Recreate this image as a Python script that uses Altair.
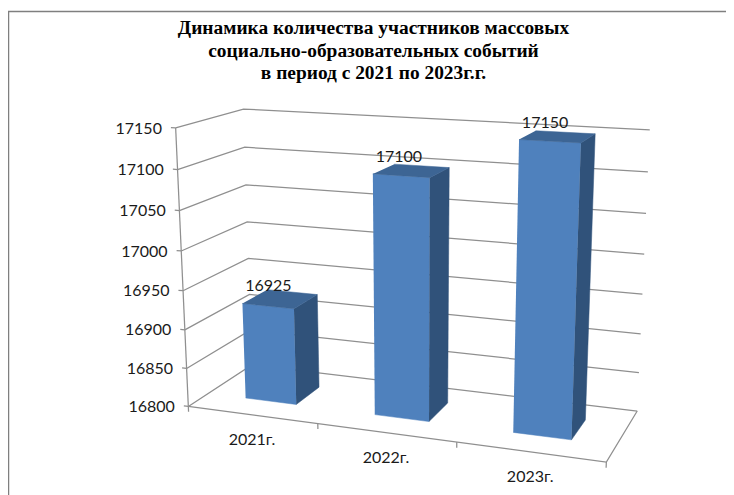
import numpy as np
import pandas as pd
import altair as alt

# ---- chart values -------------------------------------------------------
categories = ["2021г.", "2022г.", "2023г."]
values = [16925, 17100, 17150]
y_ticks = [16800, 16850, 16900, 16950, 17000, 17050, 17100, 17150]
title_lines = ["Динамика количества участников массовых",
               "социально-образовательных событий",
               "в период с 2021 по 2023г.г."]

V_MIN, V_MAX = y_ticks[0], y_ticks[-1]
BAR_W, D0, D1 = 0.4 / 3, 0.3, 0.7     # gap width / gap depth 150 %

# ---- perspective camera, calibrated on the box of the 3-D plot -----------
calib = [
    ((0, 1, 0), (176, 128)), ((0, 1, 1), (243, 109)), ((1, 1, 1), (650, 130)),
    ((0, 0, 0), (188, 406)), ((1, 0, 0), (606, 462)), ((1, 0, 1), (637, 411)),
    ((1 / 3, 0, 0), (318, 424)), ((2 / 3, 0, 0), (457, 443)),
    ((0, 0.5714, 0), (181, 251)), ((0, 0.5714, 1), (247, 222)),
    ((1, 0.5714, 1), (644, 254)), ((0, 0.2857, 1), (250, 295)),
    ((1, 0.2857, 1), (641, 333)), ((0, 0.2857, 0), (185, 329)),
]
A, b = [], []
for (u, v, d), (X, Y) in calib:
    A.append([u, v, d, 1, 0, 0, 0, 0, -X * u, -X * v, -X * d]); b.append(X)
    A.append([0, 0, 0, 0, u, v, d, 1, -Y * u, -Y * v, -Y * d]); b.append(Y)
P = np.linalg.lstsq(np.array(A, float), np.array(b, float), rcond=None)[0]


def proj(u, v, d):
    w = P[8] * u + P[9] * v + P[10] * d + 1
    return ((P[0] * u + P[1] * v + P[2] * d + P[3]) / w,
            (P[4] * u + P[5] * v + P[6] * d + P[7]) / w)


def norm(val):
    return (val - V_MIN) / (V_MAX - V_MIN)


def rows(key, pts):
    return [dict(key=key, o=i, x=proj(*p)[0], y=proj(*p)[1]) for i, p in enumerate(pts)]


# ---- structure ----------------------------------------------------------
grid, axes = [], []
for t in y_ticks:
    v = norm(t)
    grid += rows(f"g{t}", [(0, v, 0), (0, v, 1), (1, v, 1)])
    axes += rows(f"yt{t}", [(-0.012, v, 0), (0, v, 0)])
axes += rows("yaxis", [(0, 0, 0), (0, 1, 0)])
axes += rows("floor", [(0, 0, 0), (1, 0, 0), (1, 0, 1)])
for k in range(4):
    axes += rows(f"xt{k}", [(k / 3, 0, 0), (k / 3, -0.02, 0)])

front, top, side, val_lab, cat_lab = [], [], [], [], []
for i, (c, val) in enumerate(zip(categories, values)):
    uc = (i + 0.5) / 3
    u0, u1, v = uc - BAR_W / 2, uc + BAR_W / 2, norm(val)
    front += rows(f"f{i}", [(u0, 0, D0), (u1, 0, D0), (u1, v, D0), (u0, v, D0)])
    top += rows(f"t{i}", [(u0, v, D0), (u1, v, D0), (u1, v, D1), (u0, v, D1)])
    side += rows(f"s{i}", [(u1, 0, D0), (u1, 0, D1), (u1, v, D1), (u1, v, D0)])
    x, y = proj(u0, v, D0)
    val_lab.append(dict(x=x, y=y, t=str(val)))
    x, y = proj(uc, 0, 0)
    cat_lab.append(dict(x=x, y=y, t=c))

ylab = []
for t in y_ticks:
    x, y = proj(-0.012, norm(t), 0)
    ylab.append(dict(x=x, y=y, t=str(t)))

W, H = 718, 487
X = alt.X("x:Q", axis=None, scale=alt.Scale(domain=[8, 8 + W], range=[0, W], zero=False))
Y = alt.Y("y:Q", axis=None, scale=alt.Scale(domain=[8, 8 + H], range=[0, H], zero=False))
GRID = "#8f8f8f"
FONT = "Lato"
TXT = "#1a1a1a"


def poly(data, color):
    return alt.Chart(pd.DataFrame(data)).mark_line(fill=color, stroke=color, strokeWidth=0.5).encode(
        x=X, y=Y, detail="key:N", order="o:Q")


def lines(data, color, width):
    return alt.Chart(pd.DataFrame(data)).mark_line(color=color, strokeWidth=width).encode(
        x=X, y=Y, detail="key:N", order="o:Q")


frame = pd.DataFrame([dict(key="f", o=0, x=8.5, y=495), dict(key="f", o=1, x=8.5, y=11.5), dict(key="f", o=2, x=726, y=11.5)])
title_df = pd.DataFrame([dict(x=373.5, y=y, t=t) for y, t in zip([28, 51, 73], title_lines)])

chart = alt.layer(
    alt.Chart(frame).mark_line(color="#7f7f7f", strokeWidth=1.5).encode(x=X, y=Y, detail="key:N", order="o:Q"),
    lines(grid, GRID, 1.25),
    lines(axes, GRID, 1.25),
    poly(front, "#4f81bd"),
    poly(side, "#30527a"),
    poly(top, "#3d6594"),
    alt.Chart(pd.DataFrame(ylab)).mark_text(align="right", baseline="middle", dx=-9, dy=1, font=FONT, fontSize=16, color=TXT).encode(x=X, y=Y, text="t:N"),
    alt.Chart(pd.DataFrame(val_lab)).mark_text(align="center", baseline="middle", dx=26, dy=-17, font=FONT, fontSize=16, color=TXT).encode(x=X, y=Y, text="t:N"),
    alt.Chart(pd.DataFrame(cat_lab)).mark_text(align="center", baseline="middle", dy=25, font=FONT, fontSize=16, color=TXT).encode(x=X, y=Y, text="t:N"),
    alt.Chart(title_df).mark_text(align="center", baseline="middle", font="Liberation Serif", fontWeight="bold", fontSize=19.4, color="#000000").encode(x=X, y=Y, text="t:N"),
).properties(width=W, height=H, padding=0, autosize=alt.AutoSizeParams(type="none"), background="white"
).configure_view(stroke=None)

chart.save("out.html", embed_options={"renderer": "svg", "actions": False})
